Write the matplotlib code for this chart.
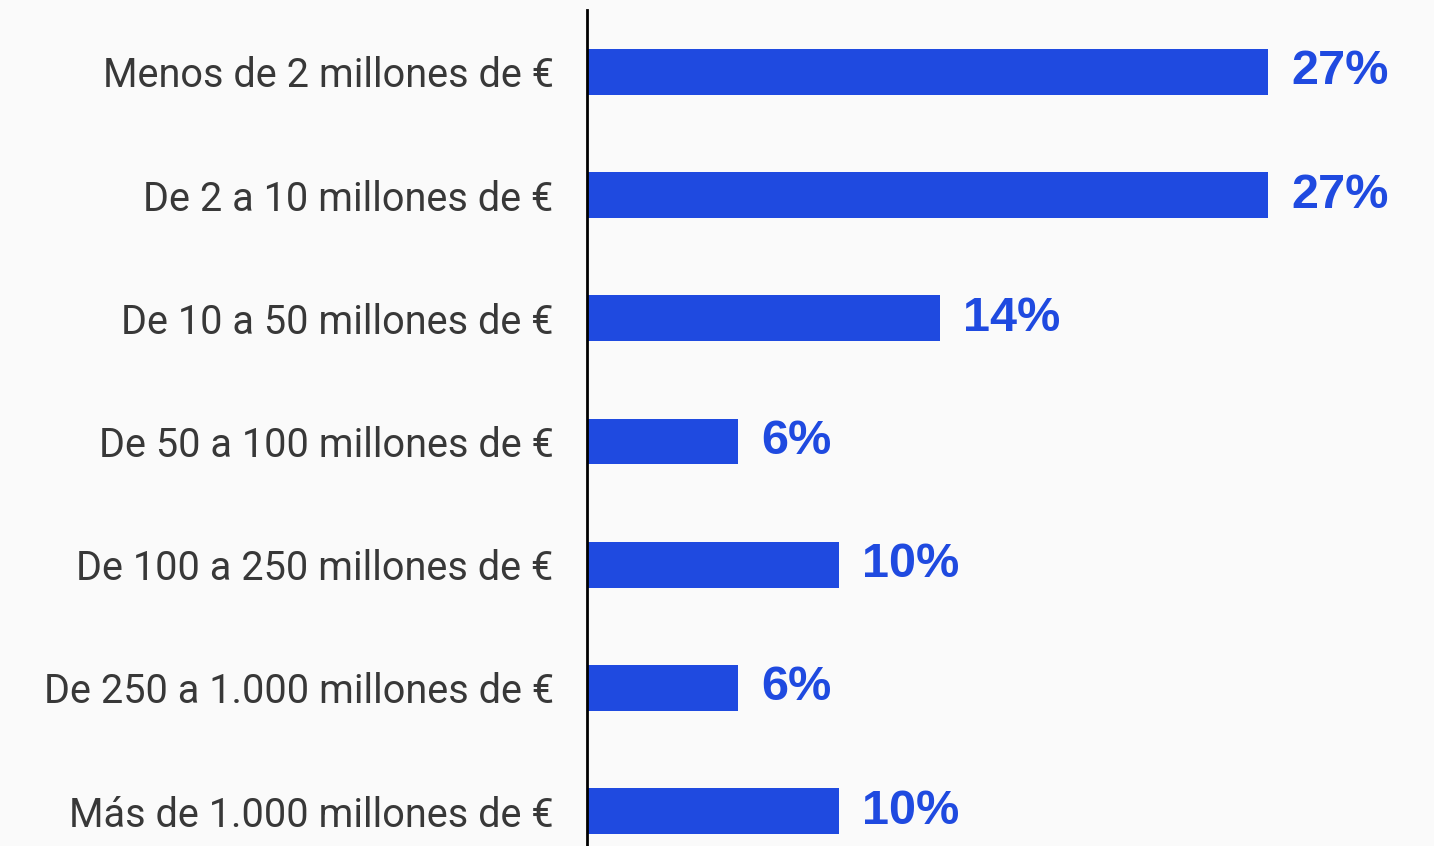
import matplotlib
matplotlib.use("Agg")
import matplotlib.pyplot as plt

categories = [
    "Menos de 2 millones de €",
    "De 2 a 10 millones de €",
    "De 10 a 50 millones de €",
    "De 50 a 100 millones de €",
    "De 100 a 250 millones de €",
    "De 250 a 1.000 millones de €",
    "Más de 1.000 millones de €",
]
values = [27, 27, 14, 6, 10, 6, 10]
value_labels = ["27%", "27%", "14%", "6%", "10%", "6%", "10%"]

BLUE = "#1F4AE0"
BG = "#FAFAFA"

fig = plt.figure(figsize=(14.34, 8.46), dpi=100, facecolor=BG)
ax = fig.add_axes([587 / 1434, 0, 1 - 587 / 1434, 836 / 846])
ax.set_facecolor(BG)

ypos = list(range(len(categories)))
ax.barh(ypos, values, height=0.373, color=BLUE, zorder=2)

ax.set_ylim(6.284, -0.503)
ax.set_xlim(0, 33.57)

for y, v, lab in zip(ypos, values, value_labels):
    ax.annotate(lab, xy=(v, y), xytext=(16.5, 0), textcoords="offset points",
                ha="left", va="center", color=BLUE, fontsize=35,
                fontweight="bold", family=["Liberation Sans", "DejaVu Sans"])

ax.set_yticks(ypos)
ax.set_yticklabels(categories, fontsize=28.5, color="#383838",
                   fontweight="normal", family=["Roboto", "DejaVu Sans"])
ax.tick_params(axis="y", length=0, pad=24)
ax.set_xticks([])

for s in ["top", "right", "bottom"]:
    ax.spines[s].set_visible(False)
ax.spines["left"].set_color("#000000")
ax.spines["left"].set_linewidth(2)
ax.spines["left"].set_zorder(3)

fig.savefig("out.png", dpi=100, facecolor=BG)
